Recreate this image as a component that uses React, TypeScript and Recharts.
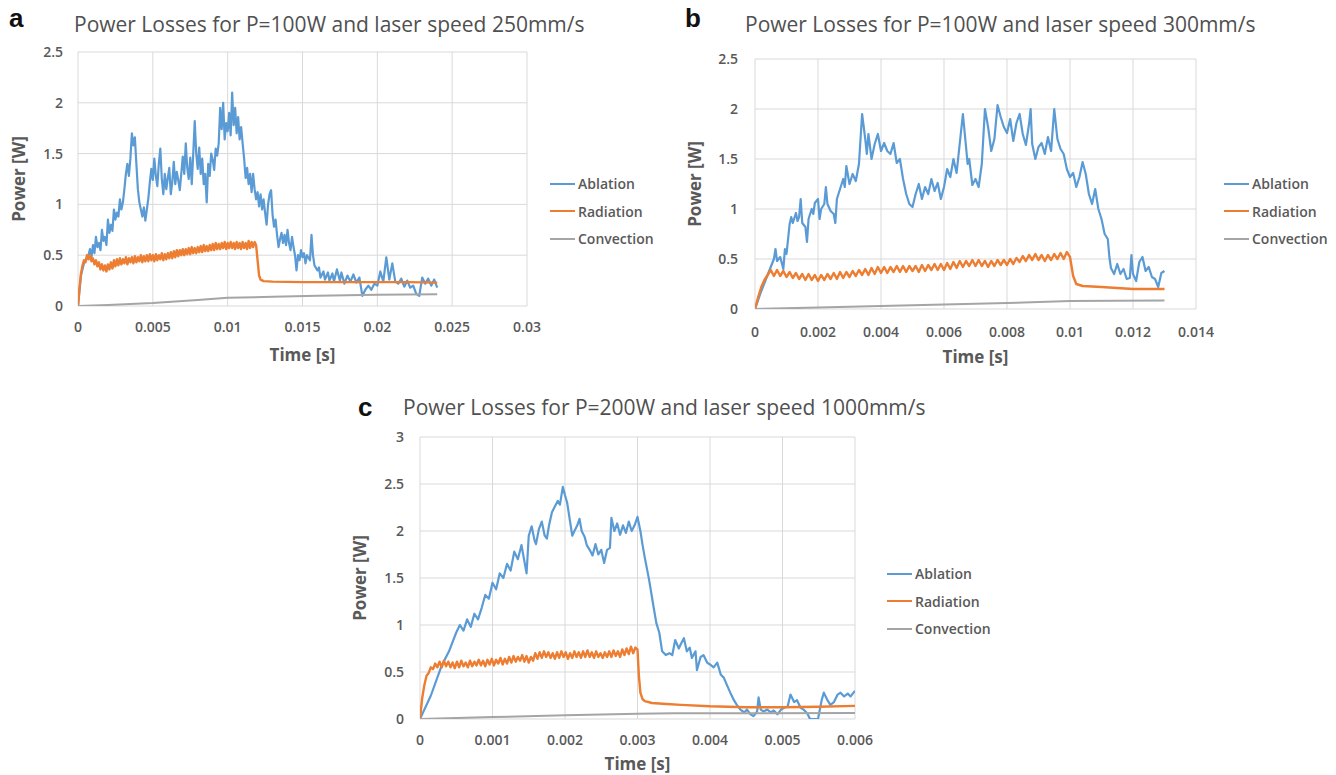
import React from 'react';
import { LineChart, Line, XAxis, YAxis, CartesianGrid, Legend } from 'recharts';

// ---------- Tick labels ----------
const xTicksA = [0, 0.005, 0.01, 0.015, 0.02, 0.025, 0.03];
const xTicksB = [0, 0.002, 0.004, 0.006, 0.008, 0.01, 0.012, 0.014];
const xTicksC = [0, 0.001, 0.002, 0.003, 0.004, 0.005, 0.006];
const yTicksAB = [0, 0.5, 1, 1.5, 2, 2.5];
const yTicksC = [0, 0.5, 1, 1.5, 2, 2.5, 3];

const seriesNames = ['Ablation', 'Radiation', 'Convection'];
const titles = [
  'Power Losses for P=100W and laser speed 250mm/s',
  'Power Losses for P=100W and laser speed 300mm/s',
  'Power Losses for P=200W and laser speed 1000mm/s',
];
const panelLetters = ['a', 'b', 'c'];

// ---------- Panel a : [time s, power W] ----------
const ablationA = [
  [0, 0], [0.0002, 0.3], [0.0004, 0.42], [0.0006, 0.48], [0.0007, 0.5], [0.0008, 0.56], [0.0009, 0.48], [0.001, 0.6],
  [0.0011, 0.52], [0.0012, 0.68], [0.0013, 0.58], [0.0014, 0.62], [0.0015, 0.55], [0.0016, 0.75], [0.0017, 0.64],
  [0.0018, 0.68], [0.0019, 0.6], [0.002, 0.85], [0.0021, 0.72], [0.0022, 0.8], [0.0023, 0.74], [0.0024, 0.95],
  [0.0025, 0.85], [0.0026, 0.92], [0.0027, 0.88], [0.0028, 1.05], [0.0029, 0.95], [0.003, 1.02], [0.0031, 1.15],
  [0.0032, 1.3], [0.0033, 1.4], [0.0034, 1.28], [0.0035, 1.45], [0.0036, 1.7], [0.0037, 1.58], [0.0038, 1.66],
  [0.0039, 1.4], [0.004, 1.15], [0.0041, 1.02], [0.0042, 0.95], [0.0043, 0.88], [0.0044, 0.97], [0.0045, 0.84],
  [0.0046, 0.95], [0.0047, 1.06], [0.0048, 1.22], [0.0049, 1.35], [0.005, 1.24], [0.0051, 1.45], [0.0052, 1.28],
  [0.0053, 1.18], [0.0054, 1.4], [0.0055, 1.55], [0.0056, 1.25], [0.0057, 1.1], [0.0058, 1.3], [0.0059, 1.15],
  [0.006, 1.26], [0.0061, 1.36], [0.0062, 1.1], [0.0063, 1.22], [0.0064, 1.42], [0.0065, 1.2], [0.0066, 1.32],
  [0.0067, 1.24], [0.0068, 1.14], [0.0069, 1.3], [0.007, 1.47], [0.0071, 1.3], [0.0072, 1.6], [0.0073, 1.36],
  [0.0074, 1.25], [0.0075, 1.46], [0.0076, 1.2], [0.0077, 1.5], [0.0078, 1.82], [0.0079, 1.5], [0.008, 1.35],
  [0.0081, 1.56], [0.0082, 1.3], [0.0083, 1.45], [0.0084, 1.2], [0.0085, 1.3], [0.0086, 1.02], [0.0087, 1.4],
  [0.0088, 1.28], [0.0089, 1.5], [0.009, 1.44], [0.0091, 1.34], [0.0092, 1.55], [0.0093, 1.48], [0.0094, 1.6],
  [0.0095, 1.95], [0.0096, 1.74], [0.0097, 2.0], [0.0098, 1.64], [0.0099, 1.8], [0.01, 1.72], [0.0101, 1.9],
  [0.0102, 1.68], [0.0103, 2.1], [0.0104, 1.78], [0.0105, 1.95], [0.0106, 1.7], [0.0107, 1.86], [0.0108, 1.64],
  [0.0109, 1.76], [0.011, 1.6], [0.0111, 1.45], [0.0112, 1.26], [0.0113, 1.36], [0.0114, 1.2], [0.0115, 1.3],
  [0.0116, 1.12], [0.0117, 1.3], [0.0118, 1.15], [0.0119, 1.05], [0.012, 1.12], [0.0121, 0.98], [0.0122, 1.1],
  [0.0123, 0.95], [0.0124, 1.05], [0.0125, 0.92], [0.0126, 0.8], [0.0127, 1.0], [0.0128, 1.1], [0.0129, 1.14],
  [0.013, 0.9], [0.0131, 0.78], [0.0132, 0.85], [0.0133, 0.7], [0.0134, 0.58], [0.0135, 0.66], [0.0136, 0.72],
  [0.0137, 0.62], [0.0138, 0.7], [0.0139, 0.6], [0.014, 0.75], [0.0141, 0.62], [0.0142, 0.55], [0.0143, 0.68],
  [0.0144, 0.58], [0.0145, 0.5], [0.0146, 0.35], [0.0147, 0.5], [0.0148, 0.45], [0.0149, 0.55], [0.015, 0.48],
  [0.0151, 0.52], [0.0152, 0.42], [0.0153, 0.5], [0.0155, 0.45], [0.0156, 0.7], [0.0157, 0.5], [0.0158, 0.4],
  [0.016, 0.35], [0.0161, 0.38], [0.0162, 0.28], [0.0164, 0.34], [0.0165, 0.26], [0.0167, 0.33], [0.0168, 0.25],
  [0.017, 0.32], [0.0171, 0.24], [0.0173, 0.36], [0.0175, 0.25], [0.0176, 0.33], [0.0178, 0.22], [0.018, 0.3],
  [0.0182, 0.24], [0.0184, 0.31], [0.0186, 0.23], [0.0188, 0.28], [0.019, 0.1], [0.0192, 0.16], [0.0194, 0.2],
  [0.0196, 0.16], [0.0198, 0.22], [0.02, 0.2], [0.0202, 0.34], [0.0204, 0.24], [0.0206, 0.48], [0.0208, 0.26],
  [0.021, 0.42], [0.0212, 0.24], [0.0214, 0.22], [0.0216, 0.27], [0.0218, 0.19], [0.022, 0.25], [0.0222, 0.18],
  [0.0224, 0.2], [0.0226, 0.12], [0.0228, 0.1], [0.023, 0.28], [0.0232, 0.22], [0.0234, 0.27], [0.0236, 0.2],
  [0.0238, 0.26], [0.024, 0.18],
];
// radiation, sampled every 0.1 ms from t = 0 to 11.9 ms
const radiationAStep = 0.0001;
const radiationAValues = [
  0, 0.18, 0.32, 0.4, 0.45, 0.43, 0.5, 0.46, 0.5, 0.44,
  0.47, 0.41, 0.45, 0.39, 0.43, 0.36, 0.41, 0.35, 0.4, 0.34,
  0.41, 0.36, 0.43, 0.37, 0.45, 0.39, 0.46, 0.4, 0.47, 0.41,
  0.46, 0.42, 0.48, 0.41, 0.47, 0.43, 0.48, 0.42, 0.49, 0.43,
  0.48, 0.44, 0.5, 0.43, 0.49, 0.44, 0.5, 0.44, 0.51, 0.45,
  0.5, 0.44, 0.51, 0.45, 0.5, 0.46, 0.52, 0.45, 0.51, 0.46,
  0.52, 0.47, 0.53, 0.47, 0.54, 0.48, 0.55, 0.49, 0.55, 0.5,
  0.56, 0.5, 0.56, 0.51, 0.57, 0.51, 0.58, 0.52, 0.57, 0.52,
  0.58, 0.53, 0.59, 0.53, 0.6, 0.54, 0.59, 0.54, 0.6, 0.55,
  0.61, 0.55, 0.62, 0.56, 0.61, 0.56, 0.62, 0.57, 0.63, 0.56,
  0.62, 0.57, 0.63, 0.57, 0.62, 0.56, 0.63, 0.57, 0.62, 0.56,
  0.63, 0.57, 0.62, 0.56, 0.64, 0.57, 0.63, 0.58, 0.63, 0.6,
];
const radiationATail = [
  [0.012, 0.45], [0.0121, 0.3], [0.0122, 0.26], [0.0124, 0.245], [0.013, 0.24], [0.015, 0.235],
  [0.018, 0.235], [0.02, 0.235], [0.022, 0.235], [0.024, 0.23],
];
const convectionA = [
  [0, 0], [0.002, 0.01], [0.005, 0.03], [0.008, 0.06], [0.01, 0.08], [0.013, 0.09], [0.016, 0.1], [0.02, 0.11], [0.024, 0.115],
];

// ---------- Panel b ----------
const ablationB = [
  [0, 0], [0.0002, 0.18], [0.0004, 0.34], [0.0005, 0.42], [0.0006, 0.5], [0.00065, 0.6], [0.0007, 0.48], [0.0008, 0.52],
  [0.0009, 0.4], [0.00095, 0.6], [0.001, 0.55], [0.0011, 0.85], [0.00115, 0.92], [0.0012, 0.86], [0.0013, 0.96],
  [0.00135, 0.88], [0.0014, 0.92], [0.00145, 1.1], [0.0015, 0.86], [0.0016, 0.82], [0.00165, 0.67], [0.0017, 0.9],
  [0.0018, 1.0], [0.00185, 0.95], [0.0019, 1.06], [0.002, 1.1], [0.00205, 0.9], [0.0021, 1.0], [0.0022, 1.05],
  [0.00225, 1.22], [0.0023, 1.05], [0.0024, 0.98], [0.0025, 0.95], [0.00255, 0.86], [0.0026, 1.1], [0.0027, 1.2],
  [0.0028, 1.3], [0.00285, 1.22], [0.0029, 1.43], [0.003, 1.25], [0.0031, 1.35], [0.0032, 1.28], [0.0033, 1.45],
  [0.0034, 1.95], [0.0035, 1.7], [0.00355, 1.55], [0.0036, 1.75], [0.0037, 1.5], [0.0038, 1.65], [0.0039, 1.75],
  [0.004, 1.58], [0.0041, 1.66], [0.0042, 1.58], [0.0043, 1.55], [0.0044, 1.66], [0.0045, 1.46], [0.0046, 1.5],
  [0.0047, 1.3], [0.0048, 1.15], [0.0049, 1.05], [0.005, 1.02], [0.0051, 1.15], [0.0052, 1.25], [0.0053, 1.1],
  [0.0054, 1.22], [0.0055, 1.15], [0.0056, 1.3], [0.0057, 1.18], [0.0058, 1.26], [0.0059, 1.1], [0.006, 1.22],
  [0.0061, 1.4], [0.0062, 1.32], [0.0063, 1.5], [0.0064, 1.36], [0.0066, 1.95], [0.0067, 1.62], [0.00675, 1.45],
  [0.0068, 1.5], [0.0069, 1.24], [0.007, 1.3], [0.0071, 1.22], [0.0072, 1.45], [0.0073, 2.0], [0.0074, 1.82],
  [0.0075, 1.58], [0.0076, 1.7], [0.0077, 2.04], [0.0078, 1.92], [0.0079, 1.82], [0.008, 1.76], [0.0081, 1.9],
  [0.0082, 1.68], [0.0083, 1.86], [0.0084, 1.95], [0.0085, 1.75], [0.0086, 1.64], [0.0087, 1.85], [0.00875, 2.0],
  [0.0088, 1.65], [0.0089, 1.5], [0.009, 1.62], [0.0091, 1.66], [0.0092, 1.55], [0.0093, 1.72], [0.0094, 1.58],
  [0.0095, 2.0], [0.0096, 1.7], [0.0097, 1.6], [0.0098, 1.55], [0.0099, 1.4], [0.01, 1.32], [0.0101, 1.36],
  [0.0102, 1.22], [0.0103, 1.32], [0.0104, 1.47], [0.0105, 1.35], [0.0106, 1.15], [0.0107, 1.05], [0.0108, 1.2],
  [0.0109, 1.0], [0.011, 0.9], [0.0111, 0.75], [0.0112, 0.7], [0.01125, 0.52], [0.0113, 0.41], [0.0114, 0.35],
  [0.0115, 0.45], [0.0116, 0.35], [0.0117, 0.4], [0.0118, 0.3], [0.0119, 0.31], [0.01195, 0.54], [0.012, 0.35],
  [0.0121, 0.28], [0.0122, 0.47], [0.0123, 0.52], [0.0124, 0.38], [0.0125, 0.42], [0.0126, 0.32], [0.0127, 0.3],
  [0.0128, 0.22], [0.0129, 0.36], [0.013, 0.38],
];
// radiation, sampled every 0.1 ms from t = 0 to 10 ms
const radiationBStep = 0.0001;
const radiationBValues = [
  0, 0.12, 0.22, 0.29, 0.34, 0.39, 0.33, 0.39, 0.33, 0.38,
  0.32, 0.37, 0.31, 0.36, 0.3, 0.35, 0.29, 0.35, 0.29, 0.34,
  0.28, 0.34, 0.29, 0.35, 0.3, 0.36, 0.3, 0.37, 0.31, 0.37,
  0.32, 0.38, 0.33, 0.39, 0.34, 0.4, 0.34, 0.41, 0.35, 0.42,
  0.36, 0.42, 0.36, 0.42, 0.37, 0.43, 0.37, 0.43, 0.37, 0.43,
  0.38, 0.43, 0.37, 0.44, 0.38, 0.44, 0.39, 0.45, 0.39, 0.45,
  0.39, 0.46, 0.4, 0.47, 0.41, 0.48, 0.42, 0.48, 0.43, 0.49,
  0.43, 0.49, 0.43, 0.48, 0.42, 0.48, 0.43, 0.49, 0.44, 0.49,
  0.44, 0.5, 0.45, 0.51, 0.47, 0.53, 0.48, 0.54, 0.49, 0.55,
  0.49, 0.54, 0.48, 0.54, 0.49, 0.55, 0.5, 0.56, 0.5, 0.57,
  0.52,
];
const radiationBTail = [
  [0.0101, 0.33], [0.0102, 0.25], [0.0104, 0.23], [0.011, 0.22], [0.0115, 0.21], [0.012, 0.2], [0.013, 0.2],
];
const convectionB = [
  [0, 0], [0.002, 0.015], [0.004, 0.03], [0.006, 0.045], [0.008, 0.06], [0.01, 0.08], [0.013, 0.085],
];

// ---------- Panel c ----------
const ablationC = [
  [0, 0], [0.00015, 0.25], [0.0003, 0.57], [0.0004, 0.72], [0.00045, 0.82], [0.0005, 0.92], [0.00055, 1.0],
  [0.0006, 0.94], [0.00065, 1.06], [0.0007, 0.98], [0.00075, 1.12], [0.0008, 1.06], [0.00085, 1.18], [0.0009, 1.32],
  [0.00095, 1.28], [0.001, 1.45], [0.00105, 1.38], [0.0011, 1.55], [0.00115, 1.5], [0.0012, 1.65], [0.00125, 1.58],
  [0.0013, 1.78], [0.00135, 1.7], [0.0014, 1.85], [0.00143, 1.72], [0.00147, 1.55], [0.0015, 1.95], [0.00154, 2.05],
  [0.00158, 1.9], [0.0016, 1.86], [0.00164, 2.02], [0.00168, 2.1], [0.00172, 1.95], [0.00175, 1.92], [0.00178, 2.06],
  [0.00182, 2.2], [0.00186, 2.26], [0.0019, 2.32], [0.00193, 2.28], [0.00197, 2.47], [0.002, 2.38], [0.00203, 2.3],
  [0.00207, 2.1], [0.0021, 1.95], [0.00213, 2.0], [0.00217, 2.06], [0.0022, 2.13], [0.00223, 2.0], [0.00227, 1.94],
  [0.0023, 1.85], [0.00234, 1.8], [0.00238, 1.74], [0.00242, 1.86], [0.00246, 1.75], [0.0025, 1.8], [0.00254, 1.66],
  [0.00258, 1.8], [0.00262, 1.82], [0.00264, 2.14], [0.00268, 2.0], [0.00272, 2.08], [0.00276, 1.96], [0.0028, 2.06],
  [0.00284, 1.98], [0.00288, 2.1], [0.00292, 2.0], [0.00296, 2.06], [0.003, 2.15], [0.00304, 2.0], [0.00307, 1.85],
  [0.0031, 1.72], [0.00313, 1.6], [0.00316, 1.48], [0.00319, 1.34], [0.00322, 1.2], [0.00326, 1.02], [0.0033, 0.92],
  [0.00334, 0.72], [0.00339, 0.68], [0.00344, 0.7], [0.00348, 0.68], [0.00352, 0.84], [0.00357, 0.75], [0.0036, 0.8],
  [0.00364, 0.86], [0.00368, 0.72], [0.00372, 0.76], [0.00375, 0.65], [0.0038, 0.72], [0.00382, 0.52], [0.00387, 0.66],
  [0.00391, 0.68], [0.00396, 0.6], [0.004, 0.58], [0.00405, 0.55], [0.0041, 0.6], [0.00415, 0.47], [0.00419, 0.44],
  [0.00424, 0.35], [0.00428, 0.28], [0.00433, 0.2], [0.00437, 0.15], [0.00442, 0.1], [0.00447, 0.07], [0.00451, 0.1],
  [0.00456, 0.05], [0.0046, 0.03], [0.00465, 0.08], [0.00467, 0.23], [0.0047, 0.1], [0.00474, 0.08], [0.00479, 0.1],
  [0.00484, 0.07], [0.00488, 0.09], [0.00493, 0.05], [0.00498, 0.1], [0.00502, 0.12], [0.00507, 0.13], [0.00511, 0.26],
  [0.00516, 0.18], [0.0052, 0.2], [0.00525, 0.12], [0.00529, 0.1], [0.00534, 0.06], [0.00538, 0.0], [0.00545, 0.0],
  [0.00549, 0.0], [0.00551, 0.08], [0.00554, 0.2], [0.00557, 0.28], [0.00562, 0.2], [0.00566, 0.15], [0.00571, 0.18],
  [0.00576, 0.26], [0.0058, 0.28], [0.00585, 0.24], [0.0059, 0.27], [0.00594, 0.24], [0.00598, 0.28], [0.006, 0.3],
];
// radiation, sampled every 0.03 ms from t = 0 to 3 ms
const radiationCStep = 0.00003;
const radiationCValues = [
  0, 0.22, 0.36, 0.46, 0.49, 0.55, 0.53, 0.59, 0.55, 0.61,
  0.55, 0.62, 0.56, 0.61, 0.55, 0.6, 0.54, 0.61, 0.55, 0.62,
  0.56, 0.6, 0.55, 0.62, 0.56, 0.61, 0.57, 0.63, 0.57, 0.62,
  0.56, 0.63, 0.58, 0.64, 0.57, 0.63, 0.59, 0.65, 0.58, 0.64,
  0.59, 0.66, 0.6, 0.67, 0.61, 0.66, 0.62, 0.68, 0.61, 0.67,
  0.6, 0.66, 0.62, 0.7, 0.64, 0.71, 0.65, 0.72, 0.66, 0.71,
  0.65, 0.7, 0.64, 0.71, 0.65, 0.72, 0.66, 0.71, 0.64, 0.7,
  0.65, 0.72, 0.66, 0.71, 0.65, 0.72, 0.66, 0.73, 0.66, 0.71,
  0.65, 0.72, 0.66, 0.7, 0.65, 0.71, 0.66, 0.72, 0.66, 0.73,
  0.67, 0.72, 0.66, 0.74, 0.68, 0.75, 0.69, 0.77, 0.7, 0.76,
  0.74,
];
const radiationCTail = [
  [0.00302, 0.45], [0.00304, 0.28], [0.00307, 0.21], [0.0031, 0.19], [0.0032, 0.17], [0.0034, 0.16], [0.0036, 0.15],
  [0.004, 0.135], [0.0045, 0.125], [0.005, 0.125], [0.0055, 0.13], [0.006, 0.14],
];
const convectionC = [
  [0, 0], [0.001, 0.02], [0.002, 0.04], [0.003, 0.055], [0.0035, 0.06], [0.006, 0.065],
];

// ---------- helpers ----------
const toPts = (arr: number[][]) => arr.map(([t, v]) => ({ t, v }));
const sampled = (vals: number[], step: number) => vals.map((v, i) => ({ t: +(i * step).toFixed(7), v }));

const FONT = "'Open Sans', 'DejaVu Sans', sans-serif";
const TEXT = '#595959';
const COLORS = ['#5b9bd5', '#ed7d31', '#a5a5a5'];

const renderLegend = (props: any) => {
  const items = [...(props.payload || [])].sort(
    (a: any, b: any) => seriesNames.indexOf(a.value) - seriesNames.indexOf(b.value),
  );
  return (
    <div style={{ fontFamily: FONT, fontSize: 14, fontWeight: 600, color: TEXT }}>
      {items.map((e: any) => (
        <div key={e.value} style={{ display: 'flex', alignItems: 'center', height: 27.5, whiteSpace: 'nowrap' }}>
          <span style={{ display: 'inline-block', width: 25, height: 2, background: e.color, marginRight: 3 }} />
          <span>{e.value}</span>
        </div>
      ))}
    </div>
  );
};

type PanelProps = {
  left: number; top: number; width: number; height: number;
  margin: { top: number; right: number; bottom: number; left: number };
  yWidth: number; xHeight: number;
  xDomain: [number, number]; xTicks: number[];
  yDomain: [number, number]; yTicks: number[];
  yTickMargin: number; xTickMargin: number;
  yLabelOffset: number; xLabelOffset: number;
  legendLeft: number; legendTop: number;
  ablation: { t: number; v: number }[];
  radiation: { t: number; v: number }[];
  convection: { t: number; v: number }[];
};

const tickStyle = { fill: TEXT, fontSize: 14, fontFamily: FONT, fontWeight: 600 };

const Panel = (p: PanelProps) => (
  <div style={{ position: 'absolute', left: p.left, top: p.top }}>
    <LineChart width={p.width} height={p.height} margin={p.margin}>
      <CartesianGrid stroke="#d9d9d9" strokeWidth={1} />
      <XAxis
        dataKey="t" type="number" domain={p.xDomain} ticks={p.xTicks} interval={0}
        height={p.xHeight} axisLine={false} tickLine={false} tickSize={0} tickMargin={p.xTickMargin}
        tick={tickStyle} tickFormatter={(v: number) => String(v)} allowDataOverflow
        label={{ value: 'Time [s]', position: 'insideBottom', offset: p.xLabelOffset, fill: TEXT,
          style: { fontFamily: FONT, fontSize: 17, fontWeight: 700, fill: TEXT } }}
      />
      <YAxis
        type="number" domain={p.yDomain} ticks={p.yTicks} interval={0}
        width={p.yWidth} axisLine={false} tickLine={false} tickSize={0} tickMargin={p.yTickMargin}
        tick={tickStyle} tickFormatter={(v: number) => String(v)} allowDataOverflow
        label={{ value: 'Power [W]', angle: -90, position: 'insideLeft', offset: p.yLabelOffset,
          style: { textAnchor: 'middle', fontFamily: FONT, fontSize: 17, fontWeight: 700, fill: TEXT } }}
      />
      <Legend
        layout="vertical" align="center" verticalAlign="middle" content={renderLegend}
        wrapperStyle={{ left: p.legendLeft, top: p.legendTop, width: 120, height: 83 }}
      />
      <Line data={p.ablation} dataKey="v" name={seriesNames[0]} stroke={COLORS[0]} strokeWidth={2.2}
        dot={false} activeDot={false} isAnimationActive={false} strokeLinejoin="round" />
      <Line data={p.radiation} dataKey="v" name={seriesNames[1]} stroke={COLORS[1]} strokeWidth={2.4}
        dot={false} activeDot={false} isAnimationActive={false} strokeLinejoin="round" />
      <Line data={p.convection} dataKey="v" name={seriesNames[2]} stroke={COLORS[2]} strokeWidth={2}
        dot={false} activeDot={false} isAnimationActive={false} strokeLinejoin="round" />
    </LineChart>
  </div>
);

const titleStyle: React.CSSProperties = {
  position: 'absolute', fontFamily: FONT, fontSize: 21, lineHeight: '21px', color: '#505050', whiteSpace: 'nowrap',
};
const letterStyle: React.CSSProperties = {
  position: 'absolute', fontFamily: "'Liberation Sans', Arial, sans-serif", fontSize: 26, fontWeight: 700,
  lineHeight: '30px', color: '#111', whiteSpace: 'nowrap',
};

export default function App() {
  const radA = sampled(radiationAValues, radiationAStep).concat(toPts(radiationATail));
  const radB = sampled(radiationBValues, radiationBStep).concat(toPts(radiationBTail));
  const radC = sampled(radiationCValues, radiationCStep).concat(toPts(radiationCTail));
  return (
    <div style={{ position: 'absolute', left: 0, top: 0, width: 1336, height: 775, background: '#fff', overflow: 'hidden' }}>
      <Panel
        left={0} top={0} width={670} height={370}
        margin={{ top: 52, right: 143, bottom: 0, left: 0 }}
        yWidth={78} xHeight={64}
        xDomain={[0, 0.03]} xTicks={xTicksA} yDomain={[0, 2.5]} yTicks={yTicksAB}
        yTickMargin={15} xTickMargin={16} yLabelOffset={19} xLabelOffset={9}
        legendLeft={550} legendTop={170}
        ablation={toPts(ablationA)} radiation={radA} convection={toPts(convectionA)}
      />
      <Panel
        left={670} top={0} width={666} height={380}
        margin={{ top: 59, right: 140, bottom: 0, left: 0 }}
        yWidth={85} xHeight={71}
        xDomain={[0, 0.014]} xTicks={xTicksB} yDomain={[0, 2.5]} yTicks={yTicksAB}
        yTickMargin={17} xTickMargin={18} yLabelOffset={25} xLabelOffset={17}
        legendLeft={554} legendTop={170}
        ablation={toPts(ablationB)} radiation={radB} convection={toPts(convectionB)}
      />
      <Panel
        left={340} top={390} width={670} height={385}
        margin={{ top: 47, right: 155, bottom: 0, left: 0 }}
        yWidth={80} xHeight={56}
        xDomain={[0, 0.006]} xTicks={xTicksC} yDomain={[0, 3]} yTicks={yTicksC}
        yTickMargin={16} xTickMargin={16} yLabelOffset={20} xLabelOffset={5}
        legendLeft={547} legendTop={170}
        ablation={toPts(ablationC)} radiation={radC} convection={toPts(convectionC)}
      />
      <div style={{ ...letterStyle, left: 9, top: 3 }}>{panelLetters[0]}</div>
      <div style={{ ...letterStyle, left: 685, top: 3 }}>{panelLetters[1]}</div>
      <div style={{ ...letterStyle, left: 358, top: 392 }}>{panelLetters[2]}</div>
      <div style={{ ...titleStyle, left: 74, top: 14 }}>{titles[0]}</div>
      <div style={{ ...titleStyle, left: 745, top: 14 }}>{titles[1]}</div>
      <div style={{ ...titleStyle, left: 403, top: 397 }}>{titles[2]}</div>
    </div>
  );
}
